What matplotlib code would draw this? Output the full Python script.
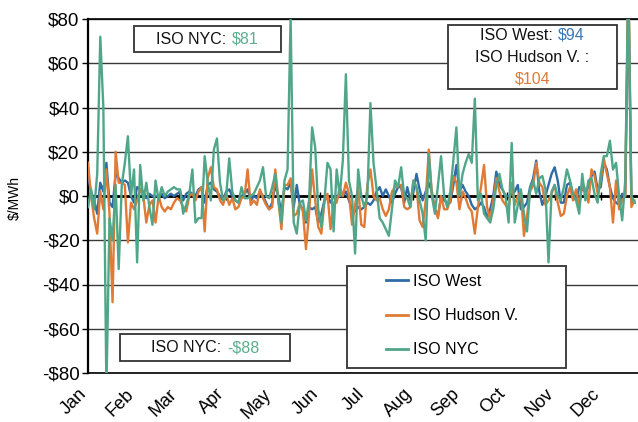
import numpy as np
import pandas as pd
import matplotlib
matplotlib.use('Agg')
import matplotlib.pyplot as plt
import matplotlib.dates as mdates
import matplotlib.transforms as mtransforms
from matplotlib.patches import Rectangle
from matplotlib.offsetbox import TextArea, HPacker, VPacker, AnchoredOffsetbox

# daily price differences ($/MWh), sampled every 2 days from Jan 1
west = [9, 2, -2, -8, 6, 2, 15, -3, -5, 10, 8, 6, 7, 6, 0, -3, 4, 3, 2, -1, 1, 0,
        0, 0, 1, -1, 0, 1, 0, 1, 2, -2, 1, 2, 1, 0, 3, 4, -3, 5, 6, 3, 2, 0, -2, 2,
        3, 0, -2, -3, 0, 1, 3, -2, 0, -1, 2, 0, -3, -6, -3, 5, 0, -8, 4, 3,
        6, -5, 5, -4, -6, -12, -5, -6, -5, -12, -8, -2, 0, -3, 0, -1, 0, 0, 2, -2,
        -6, -7, -5, -6, -5, -3, -4, -2, 2, 4, 0, 3, 0, -3, 1, 4, 4, -3, 4, -2,
        2, 10, 3, -2, 2,
        6, 2, -6, -9, 0, -2, -3, -3, 5, 14, 2, 5, 2, 0, -4, -6, -5, -3, -5, -10,
        -6, 0, 11, 5, 3, 0, 0, 1, 2, 5, -6, -5, -3, 4, 8, 16, 2, -4, 0, 5,
        10, 13, 7,
        -3, -3, 5, 6, 0, -2, 4, 3, 2, 4, 9, 11, 3, 4, 15, 12, 4, -1, -3, -4,
        1, 0, 94, -3, -3]
hudson = [15, 0, -10, -17, 2, -6, 12, -8, -48, 20, 6, 6, 5, -21, -3, -6, -2, 3, 0, -12, -4, -2,
          -12, 0, -5, -7, -5, -6, -3, -1, -2, -5, -7, 0, 1, -2, 2, 4, -16, 8, 13, 4,
          3, -2, -4, 1, -4, -1, -6, -5, -1, 0, 12, -4, -2, -4, 3, -1, -4, -6, -5, 12,
          -2, -15, 5, 5,
          8, -9, -8, -3, -7, -24, -8, 12, -2, -14, -17, -3, 1, -15, -3, -3, 4, 0, 6, 1,
          -13, -4, 4, -13, -14, 5, 12, 0, -2, -1, -6, -9, -6, 2, 4, 5, 5, -5, -6, -5,
          7, 4, -11, -14, -2,
          21, 1, -6, -10, 0, -6, -6, -2, 9, 6, -6, 2, -1, -5, -7, -17, -5, 4, 14, -5,
          -11, -2, 8, 2, -2, -4, -6, 6, -4, 0, 2, -18, -9, 2, 5, 15, 6, 4, -4, -2,
          1, 5, -3,
          -9, -8, 0, 4, -2, 3, -5, 6, 3, -3, 12, 9, 1, 7, 17, 10, 4, -12, 7, -6,
          -2, 0, 104, -5, -2]
nyc = [-5, 3, -6, 10, 72, 40, -88, -10, -20, 5, -33, 5, 15, 27, 0, 12, -30, 14, -2, 6, -5, -13,
       7, -2, 4, 0, 2, 3, 4, 3, 3, -8, -4, 1, 12, -12, -10, -10, 18, 6, -2, 21,
       26, 6, -2, 0, 17, 2, -2, -3, 4, -1, -1, 0, 1, 4, 7, 13, 0, -1, 4, 10,
       -2, -12, 7, 12,
       81, -12, -17, -3, -2, -11, -2, 31, 22, -6, -14, -2, 15, 12, -16, 12, 0, 16, 55, 7,
       0, -26, 12, 0, -5, 0, 42, 15, 3, -10, -12, -15, -18, -6, 7, 4, 13, 0, -1, -5,
       7, 4, -2, -8, -20,
       19, 0, -8, 5, 18, 0, -5, 2, 16, 31, 0, 10, 15, 19, 15, 44, -2, 1, -8, -10,
       -12, -6, 5, 10, 3, 0, -12, 24, -12, -4, 3, -8, -16, 3, 7, 1, 8, 9, 3, -30,
       2, 5, 0,
       -2, 4, 12, 7, 1, -2, -8, 10, -2, 7, 8, 1, -3, 10, 18, 18, 25, 12, 15, 0,
       -11, 7, 100, 0, -3]

series_names = ['ISO West', 'ISO Hudson V.', 'ISO NYC']
y_ticks = [-80, -60, -40, -20, 0, 20, 40, 60, 80]

BLUE = '#2F6BA5'
ORANGE = '#E07A35'
GREEN = '#50A688'

plt.rcParams['font.family'] = ['Liberation Sans', 'DejaVu Sans']

W, H = 638, 422
def fx(px):
    return px / W
def fy(py):
    return 1 - py / H

fig = plt.figure(figsize=(W / 100, H / 100), dpi=100)
ax = fig.add_axes([fx(88), fy(373), 550 / W, 354 / H])

start = pd.Timestamp('2013-01-01')
dates = pd.date_range(start, periods=len(west), freq='2D')

lines = []
for vals, col, name in zip([west, hudson, nyc], [BLUE, ORANGE, GREEN], series_names):
    ln, = ax.plot(dates, vals, color=col, lw=1.7, label=name, zorder=3)
    lines.append(ln)

ax.set_ylim(-80, 80)
ax.set_xlim(start, start + pd.Timedelta(days=358.3))

# horizontal gridlines and zero axis
for v in y_ticks:
    ax.axhline(v, color='#3a3a3a', lw=1.0, zorder=1)
ax.axhline(0, color='black', lw=2.0, zorder=2)
month_starts = pd.date_range(start, periods=12, freq='MS')
ax.vlines(month_starts, -1.6, 1.6, color='black', lw=1.0, zorder=2)

ax.set_yticks(y_ticks)
ax.set_yticklabels([f'${v}' if v >= 0 else f'-${-v}' for v in y_ticks], fontsize=13.5)
ax.tick_params(axis='y', direction='out', length=4, width=1, color='black', pad=2)

ax.xaxis.set_major_locator(mdates.MonthLocator())
ax.xaxis.set_major_formatter(mdates.DateFormatter('%b'))
ax.tick_params(axis='x', length=0, pad=9, labelsize=13)
shift = mtransforms.ScaledTranslation(-10 / 100, 0, fig.dpi_scale_trans)
for lab in ax.get_xticklabels():
    lab.set_rotation(45)
    lab.set_ha('right')
    lab.set_rotation_mode('anchor')
    lab.set_transform(lab.get_transform() + shift)

ax.spines['right'].set_visible(False)
for s in ['left', 'top', 'bottom']:
    ax.spines[s].set_color('black')
    ax.spines[s].set_linewidth(1.2)
ax.spines['left'].set_linewidth(1.6)

fig.text(fx(15), fy(198), '$/MWh', rotation=90, ha='center', va='center', fontsize=10)


def ta(s, color='#111111', size=11.5):
    return TextArea(s, textprops=dict(color=color, fontsize=size))


def add_box(x0, y0, x1, y1, child):
    rect = Rectangle((fx(x0), fy(y1)), (x1 - x0) / W, (y1 - y0) / H,
                     transform=fig.transFigure, facecolor='white',
                     edgecolor='#333333', lw=1.3, zorder=3)
    fig.add_artist(rect)
    ab = AnchoredOffsetbox(loc='center', child=child, pad=0, borderpad=0, frameon=False,
                           bbox_to_anchor=(fx((x0 + x1) / 2), fy((y0 + y1) / 2)),
                           bbox_transform=fig.transFigure)
    ab.set_zorder(4)
    fig.add_artist(ab)


add_box(134, 26, 281, 52, HPacker(children=[ta('ISO NYC:'), ta('$81', '#5AAE8C')], sep=4, pad=0))
add_box(120, 334, 290, 361, HPacker(children=[ta('ISO NYC:'), ta('-$88', '#5AAE8C')], sep=4, pad=0))
top_right = VPacker(children=[HPacker(children=[ta('ISO West:'), ta('$94', '#3B78B4')], sep=4, pad=0),
                              ta('ISO Hudson V. :'), ta('$104', ORANGE)],
                    align='center', sep=5, pad=0)
add_box(448, 25, 617, 89, top_right)

# legend box
rect = Rectangle((fx(347), fy(368)), 219 / W, 102 / H, transform=fig.transFigure,
                 facecolor='white', edgecolor='#333333', lw=1.3, zorder=3)
fig.add_artist(rect)
leg = fig.legend(handles=lines, labels=series_names, loc='upper left',
                 bbox_to_anchor=(fx(386), fy(274)), bbox_transform=fig.transFigure,
                 frameon=False, fontsize=11.5, labelspacing=1.2, handlelength=1.4,
                 handletextpad=0.3, borderpad=0, borderaxespad=0)
for h in leg.legend_handles:
    h.set_linewidth(2.0)
leg.set_zorder(5)

fig.savefig('out.png', dpi=100)
